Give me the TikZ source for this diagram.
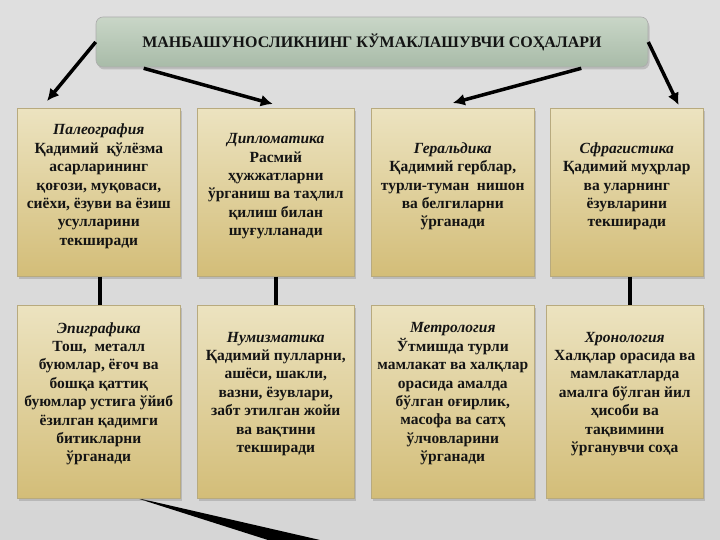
\documentclass[tikz,border=0pt]{standalone}
\usepackage{fontspec}
\setmainfont{Liberation Serif}
\usepackage{xcolor}
\definecolor{canvas}{HTML}{D6D6D6}
\definecolor{canvastop}{HTML}{DFDFDF}
\definecolor{sage}{HTML}{C9D6C7}
\definecolor{sagedark}{HTML}{A8BBA8}
\definecolor{parch}{HTML}{ECE3C0}
\definecolor{ochre}{HTML}{D3BD78}
\definecolor{tanrule}{HTML}{B8AA7E}
\definecolor{ink}{HTML}{141414}
\usetikzlibrary{arrows.meta,shadows,calc}
\tikzset{
  >={Latex[length=12pt,width=12pt]},
  head/.style={draw=gray!65,rounded corners=7pt,line width=0.6pt,top color=sage,bottom color=sagedark,
    drop shadow={shadow xshift=1.5pt,shadow yshift=-2.5pt,opacity=0.35},
    minimum width=552pt,minimum height=50pt,font=\bfseries\fontsize{16}{19}\selectfont,text=ink},
  card/.style={draw=tanrule,line width=0.6pt,top color=parch,bottom color=ochre,
    drop shadow={shadow xshift=1.5pt,shadow yshift=-2.5pt,opacity=0.35},anchor=north west,inner sep=0pt},
  txt/.style={align=center,font=\bfseries\fontsize{15.5}{18.4}\selectfont,text=ink,inner sep=0pt},
  feed/.style={->,draw=black,line width=3.5pt},
  tie/.style={draw=black,line width=3.5pt},
}

\begin{document}
\begin{tikzpicture}[x=1pt,y=-1pt]
  \useasboundingbox (0,0) rectangle (720,540);
  \shade[top color=canvastop,bottom color=canvas] (0,0) rectangle (720,540);
  \fill[black] (133,497) -- (320,540) -- (268,540) -- cycle;
  % title
  \node[head] (title) at (372,42) {МАНБАШУНОСЛИКНИНГ КЎМАКЛАШУВЧИ СОҲАЛАРИ};
  % upper row
  \node[card,minimum width=163pt,minimum height=168pt] (pal) at (17,108) {};
  \node[card,minimum width=157pt,minimum height=168pt] (dip) at (197,108) {};
  \node[card,minimum width=163pt,minimum height=168pt] (ger) at (371,108) {};
  \node[card,minimum width=153pt,minimum height=168pt] (sfr) at (550,108) {};
  % lower row
  \node[card,minimum width=163pt,minimum height=193pt] (epi) at (17,305) {};
  \node[card,minimum width=157pt,minimum height=193pt] (num) at (197,305) {};
  \node[card,minimum width=163pt,minimum height=193pt] (met) at (371,305) {};
  \node[card,minimum width=157pt,minimum height=193pt] (xro) at (546,305) {};
  % texts
  \node[txt] (palt) at ([yshift=6pt]pal.center) {\textit{Палеография}\\Қадимий\ \ қўлёзма\\асарларининг\\қоғози, муқоваси,\\сиёхи, ёзуви ва ёзиш\\усулларини\\текширади};
  \node[txt] (dipt) at ([yshift=6pt]dip.center) {\textit{Дипломатика}\\Расмий\\ҳужжатларни\\ўрганиш ва таҳлил\\қилиш билан\\шуғулланади};
  \node[txt] (gert) at ([yshift=6pt]ger.center) {\textit{Геральдика}\\Қадимий герблар,\\турли-туман\ \ нишон\\ва белгиларни\\ўрганади};
  \node[txt] (sfrt) at ([yshift=6pt]sfr.center) {\textit{Сфрагистика}\\Қадимий муҳрлар\\ва уларнинг\\ёзувларини\\текширади};
  \node[txt] (epit) at ([yshift=8pt]epi.center) {\textit{Эпиграфика}\\Тош,\ \ металл\\буюмлар, ёғоч ва\\бошқа қаттиқ\\буюмлар устига ўйиб\\ёзилган қадимги\\битикларни\\ўрганади};
  \node[txt] (numt) at ([yshift=8pt]num.center) {\textit{Нумизматика}\\Қадимий пулларни,\\ашёси, шакли,\\вазни, ёзувлари,\\забт этилган жойи\\ва вақтини\\текширади};
  \node[txt] (mett) at ([yshift=8pt]met.center) {\textit{Метрология}\\Ўтмишда турли\\мамлакат ва халқлар\\орасида амалда\\бўлган оғирлик,\\масофа ва сатҳ\\ўлчовларини\\ўрганади};
  \node[txt] (xrot) at ([yshift=8pt]xro.center) {\textit{Хронология}\\Халқлар орасида ва\\мамлакатларда\\амалга бўлган йил\\ҳисоби ва\\тақвимини\\ўрганувчи соҳа};
  % arrows from the title
  \draw[feed] (title.west) -- ([xshift=30pt,yshift=7pt]pal.north west);
  \draw[feed] ([xshift=48pt,yshift=-1pt]title.south west) -- ([xshift=-3pt,yshift=4pt]dip.north);
  \draw[feed] ([xshift=-67pt,yshift=-1pt]title.south east) -- ([yshift=5pt]ger.north);
  \draw[feed] (title.east) -- ([xshift=-25pt,yshift=3pt]sfr.north east);
  % links between rows
  \draw[tie] ([xshift=1pt]pal.south) -- ([xshift=1pt]pal.south |- epi.north);
  \draw[tie] (dip.south) -- (dip.south |- num.north);
  \draw[tie] ([xshift=3pt]sfr.south) -- ([xshift=3pt]sfr.south |- xro.north);
\end{tikzpicture}
\end{document}
